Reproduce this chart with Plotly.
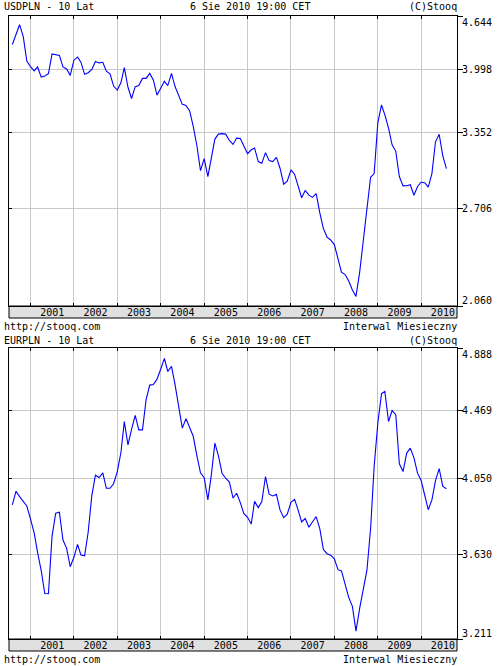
import math
import pandas as pd
import plotly.graph_objects as go

# ---------------- data ----------------
dates = pd.date_range("2000-08-01", periods=121, freq="MS")

usd = [4.287, 4.404, 4.532, 4.383, 4.092, 4.029, 3.982, 4.026, 3.913, 3.924,
       3.952, 4.176, 4.170, 4.158, 4.027, 4.004, 3.932, 4.103, 4.138, 4.080,
       3.944, 3.962, 3.998, 4.088, 4.072, 4.079, 3.979, 3.949, 3.816, 3.774,
       3.854, 4.019, 3.803, 3.685, 3.810, 3.822, 3.899, 3.899, 3.954, 3.880,
       3.719, 3.801, 3.867, 3.821, 3.954, 3.811, 3.707, 3.625, 3.614, 3.559,
       3.408, 3.228, 3.011, 3.114, 2.961, 3.114, 3.289, 3.335, 3.340, 3.335,
       3.276, 3.240, 3.298, 3.295, 3.223, 3.157, 3.192, 3.208, 3.088, 3.073,
       3.166, 3.096, 3.088, 3.125, 3.031, 2.898, 2.922, 3.017, 2.979, 2.892,
       2.790, 2.848, 2.811, 2.793, 2.822, 2.674, 2.559, 2.499, 2.479, 2.447,
       2.356, 2.265, 2.250, 2.209, 2.155, 2.116, 2.264, 2.484, 2.740, 2.955,
       2.986, 3.445, 3.619, 3.520, 3.391, 3.237, 3.178, 2.961, 2.885, 2.886,
       2.894, 2.810, 2.880, 2.916, 2.908, 2.875, 2.986, 3.264, 3.334, 3.140,
       3.028]

eur = [3.897, 3.975, 3.944, 3.918, 3.891, 3.818, 3.741, 3.640, 3.544, 3.429,
       3.428, 3.724, 3.851, 3.856, 3.704, 3.660, 3.564, 3.613, 3.681, 3.625,
       3.621, 3.746, 3.951, 4.068, 4.054, 4.082, 3.992, 3.992, 4.018, 4.089,
       4.205, 4.395, 4.250, 4.346, 4.435, 4.343, 4.343, 4.539, 4.633, 4.637,
       4.673, 4.740, 4.815, 4.725, 4.760, 4.636, 4.497, 4.354, 4.413, 4.354,
       4.303, 4.183, 4.082, 4.053, 3.925, 4.062, 4.261, 4.183, 4.078, 4.050,
       4.028, 3.936, 3.963, 3.910, 3.848, 3.828, 3.791, 3.917, 3.882, 3.916,
       4.060, 3.958, 3.948, 3.957, 3.869, 3.826, 3.845, 3.912, 3.928, 3.871,
       3.802, 3.821, 3.773, 3.802, 3.832, 3.764, 3.654, 3.632, 3.624, 3.605,
       3.549, 3.543, 3.480, 3.410, 3.366, 3.248, 3.356, 3.447, 3.545, 3.765,
       4.119, 4.386, 4.576, 4.591, 4.396, 4.465, 4.439, 4.135, 4.089, 4.200,
       4.230, 4.171, 4.080, 4.035, 3.954, 3.870, 3.925, 4.036, 4.107, 4.004,
       3.988]

usd_ticks = [4.644, 3.998, 3.352, 2.706, 2.060]
eur_ticks = [4.888, 4.469, 4.050, 3.630, 3.211]

titles = ["USDPLN - 10 Lat", "EURPLN - 10 Lat"]
stamp = "6 Sie 2010 19:00 CET"
copyright_txt = "(C)Stooq"
footer_left = "http://stooq.com"
footer_right = "Interwal Miesieczny"

# ---------------- layout geometry ----------------
W, H = 500, 666
L, R, T, B = 8, 37, 16, 27
PW, PH = W - L - R, H - T - B


def pyf(y):
    return (H - B - y) / PH


def pxf(x):
    return (x - L) / PW


top_dom = [pyf(306), 1.0]
bot_dom = [0.0, pyf(348)]

FONT = "DejaVu Sans Mono"
GRID = "#c8c8c8"
LINE = "#0000ff"
xrange_ = ["2000-07-04", "2010-10-29"]

fig = go.Figure()

series = [(usd, "x", "y", ["y3", "y5", "y7"]), (eur, "x2", "y2", ["y4", "y6", "y8"])]
for vals, xa, ya, overlays in series:
    fig.add_trace(go.Scatter(x=dates, y=vals, mode="lines",
                             line=dict(color=LINE, width=1.1),
                             xaxis=xa, yaxis=ya, showlegend=False, hoverinfo="skip"))
    for yo in overlays:
        fig.add_trace(go.Scatter(x=dates, y=vals, mode="lines", opacity=0,
                                 xaxis=xa, yaxis=yo, showlegend=False, hoverinfo="skip"))

xcommon = dict(type="date", range=xrange_, tick0="2001-01-01", dtick="M12",
               tickformat="%Y", ticklabelmode="period", showgrid=True,
               gridcolor=GRID, gridwidth=1, ticks="inside", ticklen=3,
               tickcolor="black", showline=True, linecolor="black", linewidth=1,
               mirror="ticks", zeroline=False, ticklabelstandoff=-3,
               tickfont=dict(family=FONT, size=10, color="black"))


def ycommon(ticks, dom, anchor):
    return dict(type="log", range=[math.log10(ticks[-1]), math.log10(ticks[0])],
                domain=dom, anchor=anchor, side="right",
                tickfont=dict(family=FONT, size=10, color="black"),
                ticks="outside", ticklen=5, tickcolor="black", zeroline=False,
                ticklabelstandoff=-3)


layout = dict(
    width=W, height=H, margin=dict(l=L, r=R, t=T, b=B),
    paper_bgcolor="white", plot_bgcolor="white", showlegend=False,
    xaxis=dict(xcommon, anchor="y", domain=[0, 1]),
    xaxis2=dict(xcommon, anchor="y2", domain=[0, 1]),
)

for i, (ticks, dom, anchor, ya, ytop, ybot, yleft) in enumerate([
        (usd_ticks, top_dom, "x", "yaxis", "yaxis3", "yaxis5", "yaxis7"),
        (eur_ticks, bot_dom, "x2", "yaxis2", "yaxis4", "yaxis6", "yaxis8")]):
    main = ycommon(ticks, dom, anchor)
    main.update(tickvals=ticks[1:-1], ticktext=[f"{t:.3f}" for t in ticks[1:-1]],
                showgrid=True, gridcolor=GRID, gridwidth=1,
                showline=True, linecolor="black", linewidth=1, mirror=True)
    layout[ya] = main
    ov = "y" if i == 0 else "y2"
    t1 = ycommon(ticks, dom, anchor)
    t1.update(overlaying=ov, tickvals=[ticks[0]], ticktext=[f"{ticks[0]:.3f}"],
              showgrid=False, showline=False, ticklabelshift=6)
    layout[ytop] = t1
    t2 = ycommon(ticks, dom, anchor)
    t2.update(overlaying=ov, tickvals=[ticks[-1]], ticktext=[f"{ticks[-1]:.3f}"],
              showgrid=False, showline=False, ticklabelshift=-6)
    layout[ybot] = t2
    t3 = ycommon(ticks, dom, anchor)
    t3.update(overlaying=ov, side="left", tickvals=ticks[1:-1], ticks="inside",
              ticklen=3, showticklabels=False, showgrid=False, showline=False)
    layout[yleft] = t3

fig.update_layout(**layout)

# gray year bands under each plot
for xa, ya, h in [("x", "y", 290), ("x2", "y2", 291)]:
    fig.add_shape(type="rect", xref=f"{xa} domain", yref=f"{ya} domain",
                  x0=0, x1=1, y0=-12 / h, y1=0, layer="below",
                  fillcolor="#e0e0e0", line=dict(color="black", width=1))

# header / footer texts
def text(s, x, y, anchor):
    fig.add_annotation(text=s, xref="paper", yref="paper", x=pxf(x), y=pyf(y),
                       xanchor=anchor, yanchor="middle", showarrow=False,
                       font=dict(family=FONT, size=10, color="black"))


for title, yh, yf in [(titles[0], 7, 326.5), (titles[1], 340.5, 659.5)]:
    text(title, 0.5, yh, "left")
    text(stamp, 253, yh, "center")
    text(copyright_txt, 465, yh, "right")
    text(footer_left, 0.5, yf, "left")
    text(footer_right, 465, yf, "right")

fig.write_html("out.html",
               config={"displayModeBar": False, "staticPlot": True},
               post_script="document.body.style.margin='0';"
                           "document.body.style.overflow='hidden';")
